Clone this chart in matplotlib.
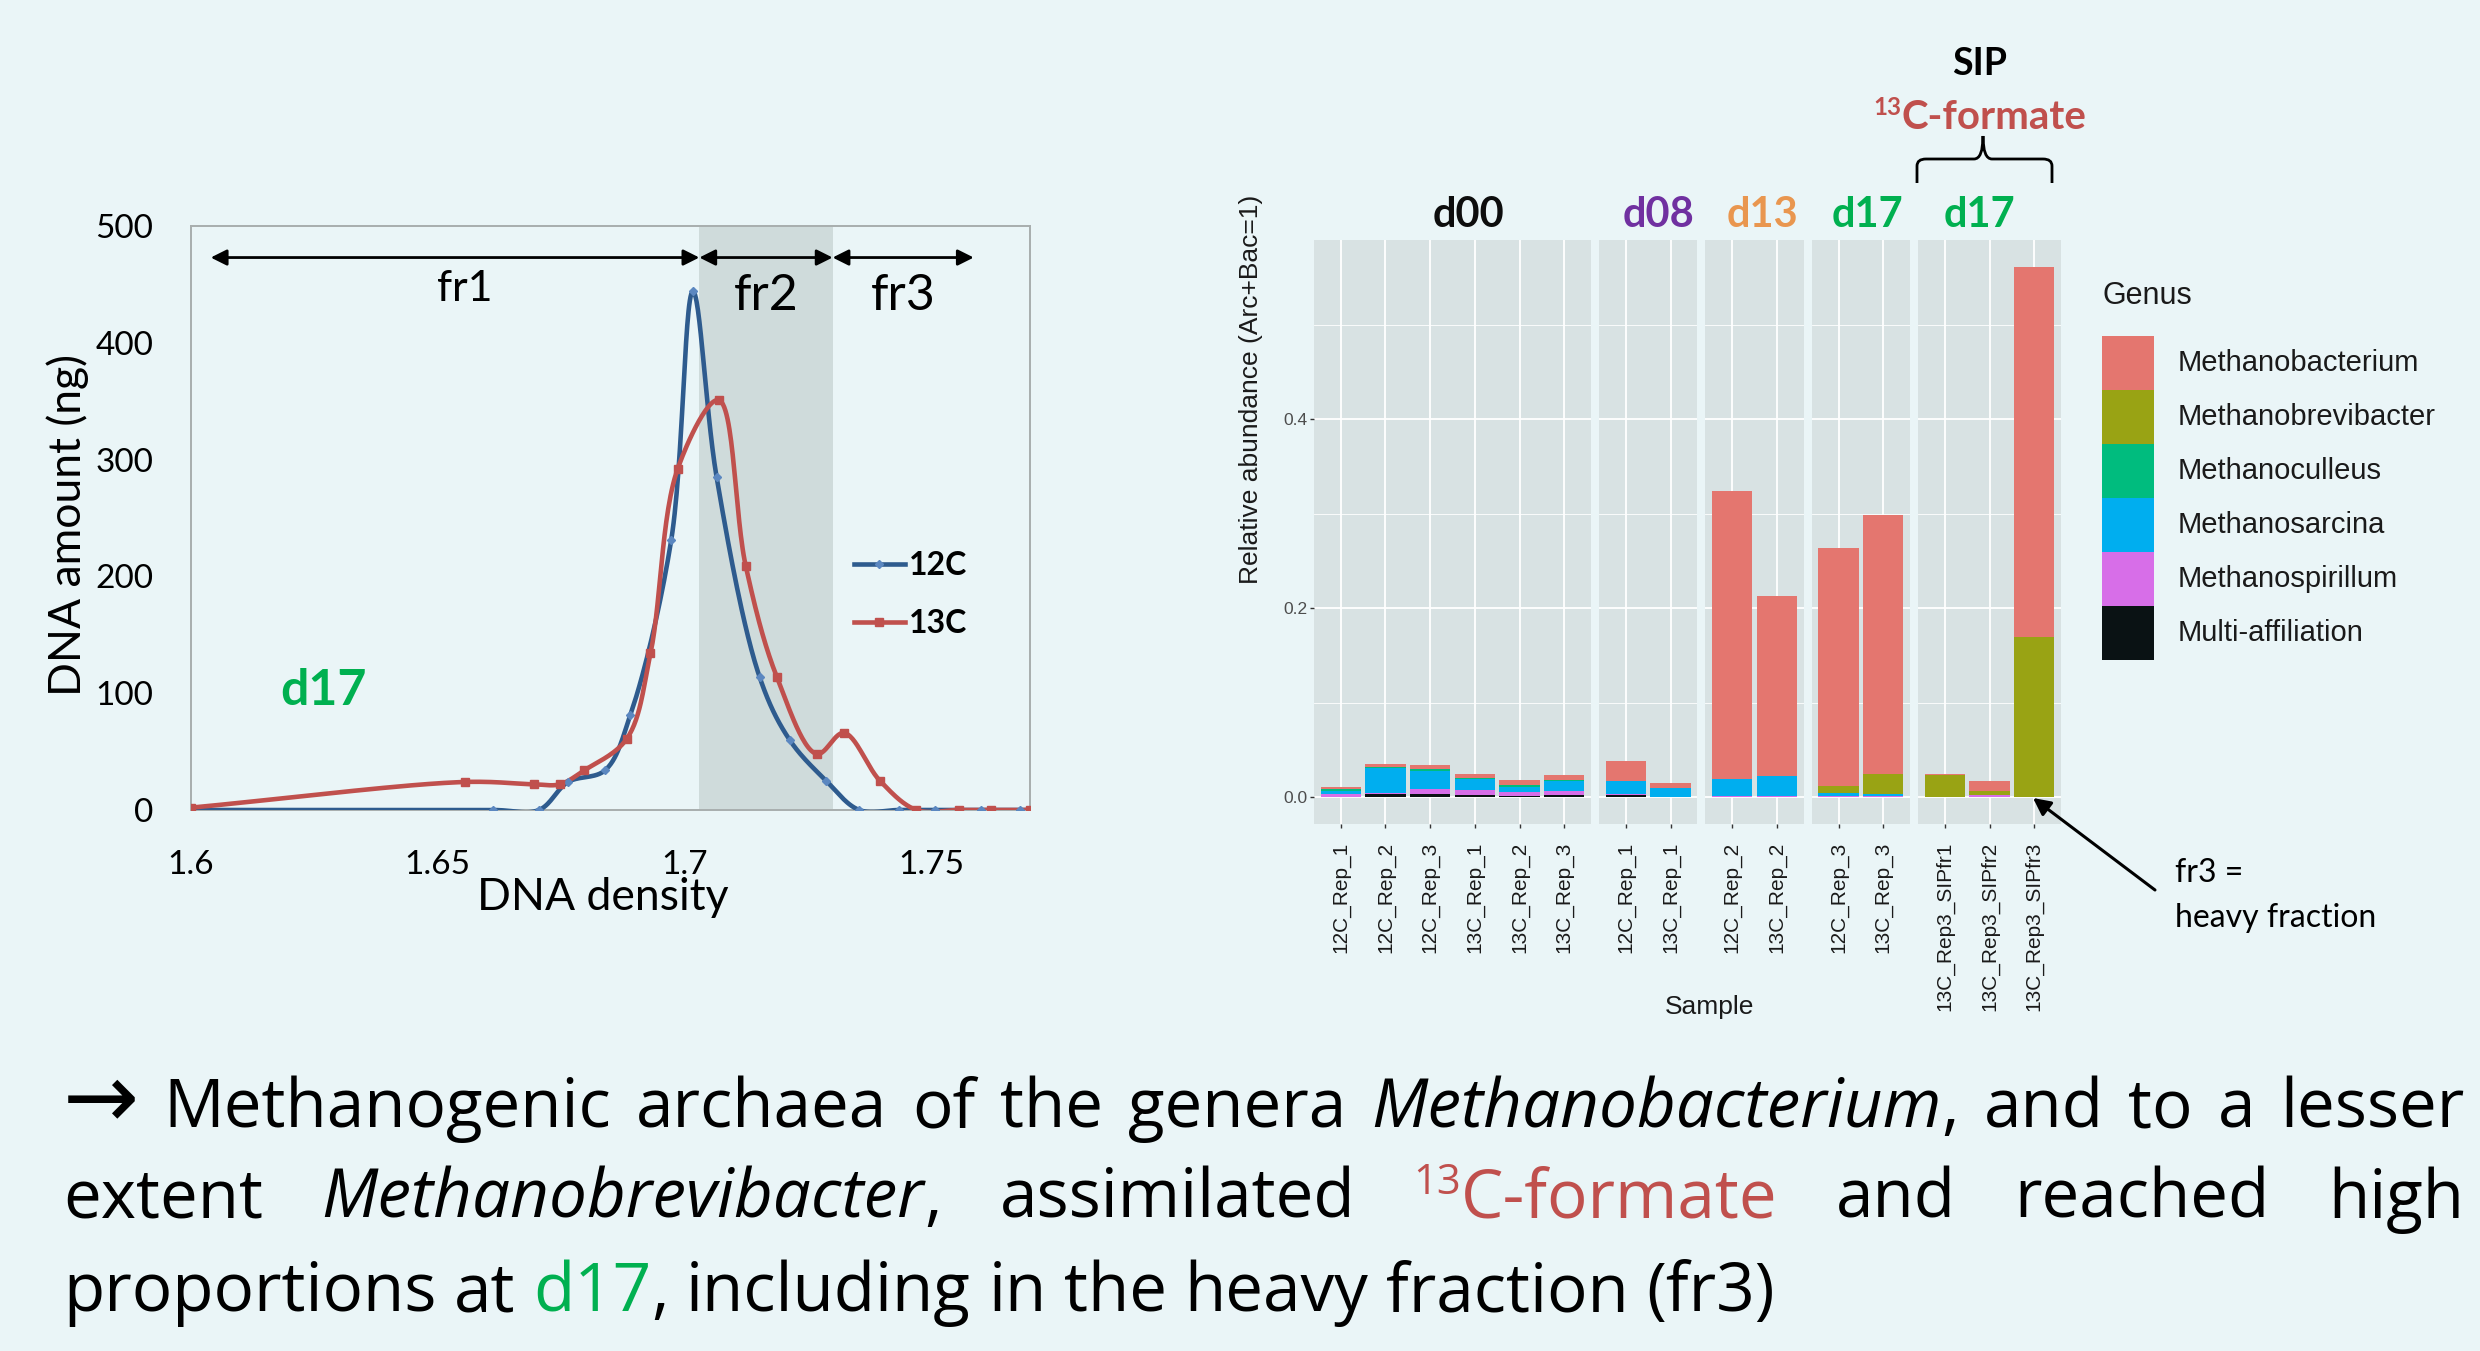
import numpy as np
import matplotlib
matplotlib.use("Agg")
import matplotlib.pyplot as plt
from matplotlib.lines import Line2D
from matplotlib.patches import Rectangle, PathPatch
from matplotlib.path import Path

W, H = 2480, 1351
BG = "#EAF5F7"
SLIDE_FONT = ["Lato", "DejaVu Sans"]
BODY_FONT = ["Open Sans", "DejaVu Sans"]
GG_FONT = ["Liberation Sans", "DejaVu Sans"]

# ---- CsCl gradient profile (left chart) ----
density_12c = [1.600, 1.6611, 1.6705, 1.6764, 1.6839, 1.6890, 1.6973, 1.7017, 1.7065,
               1.7152, 1.7213, 1.7287, 1.7354, 1.7435, 1.7508, 1.7600, 1.7680, 1.7700]
dna_12c = [0, 0, 0, 24, 34, 81, 231, 444, 285, 114, 60, 25, 0, 0, 0, 0, 0, 0]
density_13c = [1.600, 1.6555, 1.6695, 1.6747, 1.6797, 1.6883, 1.6931, 1.6986, 1.7069,
               1.7124, 1.7187, 1.7268, 1.7323, 1.7396, 1.7470, 1.7556, 1.7620, 1.7700]
dna_13c = [2, 24, 22, 22, 34, 61, 134, 292, 351, 209, 114, 48, 66, 25, 0, 0, 0, 0]
fractions = ["fr1", "fr2", "fr3"]
fraction_bounds = [1.604, 1.703, 1.730, 1.7586]

# ---- relative abundance of methanogens (right chart) ----
samples = ["12C_Rep_1", "12C_Rep_2", "12C_Rep_3", "13C_Rep_1", "13C_Rep_2", "13C_Rep_3",
           "12C_Rep_1", "13C_Rep_1",
           "12C_Rep_2", "13C_Rep_2",
           "12C_Rep_3", "13C_Rep_3",
           "13C_Rep3_SIPfr1", "13C_Rep3_SIPfr2", "13C_Rep3_SIPfr3"]
groups = ["d00"] * 6 + ["d08"] * 2 + ["d13"] * 2 + ["d17"] * 2 + ["SIP"] * 3
group_order = ["d00", "d08", "d13", "d17", "SIP"]
group_labels = ["d00", "d08", "d13", "d17", "d17"]
group_colors = ["#0D0D0D", "#7030A0", "#E9964F", "#00B050", "#00B050"]

genera = ["Methanobacterium", "Methanobrevibacter", "Methanoculleus",
          "Methanosarcina", "Methanospirillum", "Multi-affiliation"]
genus_colors = ["#E4766F", "#99A314", "#00BC7E", "#00AEEF", "#D76EE8", "#0A1214"]
methanobacterium = [0.0025, 0.0035, 0.004, 0.0043, 0.005, 0.005, 0.0205, 0.005,
                    0.3045, 0.190, 0.251, 0.274, 0.001, 0.011, 0.392]
methanobrevibacter = [0, 0, 0, 0, 0, 0, 0, 0, 0, 0, 0.0075, 0.021, 0.024, 0.004, 0.1697]
methanoculleus = [0.002, 0.001, 0.0015, 0.001, 0.002, 0.0015, 0.0005, 0.0005,
                  0, 0, 0, 0, 0, 0, 0]
methanosarcina = [0.003, 0.0265, 0.0195, 0.012, 0.005, 0.0105, 0.0135, 0.0095,
                  0.0175, 0.0207, 0.003, 0.002, 0, 0, 0]
methanospirillum = [0.0025, 0.0005, 0.005, 0.0045, 0.004, 0.0035, 0.0012, 0.0005,
                    0.0015, 0.0015, 0.002, 0.002, 0, 0.0025, 0]
multi_affiliation = [0.001, 0.004, 0.004, 0.003, 0.002, 0.003, 0.0025, 0,
                     0.0005, 0.0005, 0, 0, 0, 0, 0]
abundance = [methanobacterium, methanobrevibacter, methanoculleus,
             methanosarcina, methanospirillum, multi_affiliation]

C12 = "#2E5B8E"
C13 = "#C0504D"
GREEN = "#00B050"

plt.rcParams["font.family"] = SLIDE_FONT
fig = plt.figure(figsize=(W / 100, H / 100), dpi=100, facecolor=BG)


def box_axes(x0, y0, x1, y1):
    # axes from a box given in figure pixels (top-left origin)
    return fig.add_axes([x0 / W, 1 - y1 / H, (x1 - x0) / W, (y1 - y0) / H])


def smooth(x, y, n=30):
    # Excel "smoothed line": centripetal Catmull-Rom, computed in screen units
    sx, sy = 839 / 0.17, 584 / 500
    p = np.column_stack([(np.asarray(x) - 1.6) * sx, np.asarray(y, float) * sy])
    p = np.vstack([2 * p[0] - p[1], p, 2 * p[-1] - p[-2]])
    out = []
    for i in range(len(p) - 3):
        p0, p1, p2, p3 = p[i:i + 4]
        t0 = 0.0
        t1 = t0 + np.linalg.norm(p1 - p0) ** 0.5
        t2 = t1 + np.linalg.norm(p2 - p1) ** 0.5
        t3 = t2 + np.linalg.norm(p3 - p2) ** 0.5
        t = np.linspace(t1, t2, n)[:, None]
        a1 = (t1 - t) / (t1 - t0) * p0 + (t - t0) / (t1 - t0) * p1
        a2 = (t2 - t) / (t2 - t1) * p1 + (t - t1) / (t2 - t1) * p2
        a3 = (t3 - t) / (t3 - t2) * p2 + (t - t2) / (t3 - t2) * p3
        b1 = (t2 - t) / (t2 - t0) * a1 + (t - t0) / (t2 - t0) * a2
        b2 = (t3 - t) / (t3 - t1) * a2 + (t - t1) / (t3 - t1) * a3
        out.append((t2 - t) / (t2 - t1) * b1 + (t - t1) / (t2 - t1) * b2)
    c = np.vstack(out)
    return c[:, 0] / sx + 1.6, c[:, 1] / sy


# ================= left: DNA density profile =================
ax = box_axes(191, 226, 1030, 810)
ax.set_facecolor("none")
ax.axvspan(fraction_bounds[1], fraction_bounds[2], color="#CFDBDB", lw=0, zorder=0)

xs, ys = smooth(density_12c, dna_12c)
ax.plot(xs, ys, color=C12, lw=3.3, zorder=3, solid_capstyle="round")
ax.plot(density_12c, dna_12c, ls="none", marker="D", ms=4.5, color="#5B87C0", zorder=4)
xs, ys = smooth(density_13c, dna_13c)
ax.plot(xs, ys, color=C13, lw=3.3, zorder=3, solid_capstyle="round")
ax.plot(density_13c, dna_13c, ls="none", marker="s", ms=5.5, color=C13, zorder=4)

ax.set_xlim(1.6, 1.77)
ax.set_ylim(0, 500)
ax.set_xticks([1.6, 1.65, 1.7, 1.75])
ax.set_xticklabels(["1.6", "1.65", "1.7", "1.75"])
ax.set_yticks(range(0, 501, 100))
ax.tick_params(axis="x", length=0, pad=29, labelsize=24)
ax.tick_params(axis="y", length=0, pad=27, labelsize=24)
for s in ax.spines.values():
    s.set_color("#A8AEAE")
    s.set_linewidth(1.4)

frac_sizes = [31, 36, 36]
frac_y = [446, 440, 440]
for i, name in enumerate(fractions):
    a, b = fraction_bounds[i], fraction_bounds[i + 1]
    ax.annotate("", xy=(b, 473), xytext=(a, 473),
                arrowprops=dict(arrowstyle="<|-|>", color="black", lw=2,
                                mutation_scale=24, shrinkA=0, shrinkB=0))
    ax.text((a + b) / 2 + (0.0 if i else 0.002), frac_y[i], name, ha="center", va="center",
            fontsize=frac_sizes[i])

ax.text(1.618, 102, "d17", color=GREEN, fontsize=36, fontweight="bold",
        ha="left", va="center")

handles = [Line2D([], [], color=C12, lw=3.3, marker="D", ms=4.5, mfc="#5B87C0", mec="#5B87C0"),
           Line2D([], [], color=C13, lw=3.3, marker="s", ms=5.5, mfc=C13, mec=C13)]
ax.legend(handles, ["12C", "13C"], loc="upper left", bbox_to_anchor=(0.79, 0.443),
          frameon=False, borderpad=0, borderaxespad=0, handlelength=1.6,
          handletextpad=0.12, labelspacing=0.9,
          prop=dict(family=SLIDE_FONT, weight="bold", size=23))

# ================= right: stacked bars (ggplot facets) =================
units = [len([g for g in groups if g == k]) + 0.2 for k in group_order]
px0, px1, gap = 1314, 2061, 8
unit_px = (px1 - px0 - gap * (len(units) - 1)) / sum(units)
ymax = max(np.sum(abundance, axis=0))
ylim = (-0.05 * ymax, 1.05 * ymax)

left = px0
for k, key in enumerate(group_order):
    idx = [i for i, g in enumerate(groups) if g == key]
    w = units[k] * unit_px
    pax = box_axes(left, 240, left + w, 824)
    left += w + gap
    pax.set_facecolor("#D8E2E3")
    pos = np.arange(len(idx))
    bottom = np.zeros(len(idx))
    for gi in range(len(genera) - 1, -1, -1):
        vals = np.array([abundance[gi][i] for i in idx])
        pax.bar(pos, vals, width=0.9, bottom=bottom, color=genus_colors[gi], lw=0, zorder=3)
        bottom += vals
    pax.set_xlim(-0.6, len(idx) - 0.4)
    pax.set_ylim(*ylim)
    pax.set_xticks(pos)
    pax.set_xticklabels([samples[i] for i in idx], rotation=90, va="top", ha="center",
                        family=GG_FONT, fontsize=15, color="#1A1A1A")
    pax.set_yticks([0, 0.2, 0.4])
    pax.set_yticks([0.1, 0.3, 0.5], minor=True)
    pax.set_yticklabels(["0.0", "0.2", "0.4"], family=GG_FONT, fontsize=12.5, color="#4D4D4D")
    pax.grid(True, which="major", color="white", lw=1.3, zorder=0)
    pax.grid(True, which="minor", axis="y", color="white", lw=0.6, zorder=0)
    pax.set_axisbelow(True)
    pax.tick_params(axis="x", length=3, width=1, color="#333333", pad=10)
    pax.tick_params(axis="y", which="major", length=3, width=1, color="#333333", pad=2,
                    labelleft=(k == 0), left=(k == 0))
    pax.tick_params(axis="y", which="minor", length=0)
    for s in pax.spines.values():
        s.set_visible(False)

# ================= overlay: slide annotations =================
ov = fig.add_axes([0, 0, 1, 1])
ov.set_xlim(0, W)
ov.set_ylim(H, 0)
ov.axis("off")
ov.patch.set_visible(False)
ov.set_zorder(10)
renderer = fig.canvas.get_renderer()

ov.text(68, 525, "DNA amount (ng)", rotation=90, ha="center", va="center", fontsize=32)
ov.text(603, 897, "DNA density", ha="center", va="center", fontsize=32)

# ggplot titles
ov.text(1251, 389, "Relative abundance (Arc+Bac=1)", rotation=90, ha="center", va="center",
        family=GG_FONT, fontsize=19, color="#1A1A1A")
ov.text(1710, 1007, "Sample", ha="center", va="center", family=GG_FONT, fontsize=19,
        color="#1A1A1A")

# strip labels
strip_x = [1469, 1658, 1762, 1867, 1979]
for x, lab, col in zip(strip_x, group_labels, group_colors):
    ov.text(x, 227, lab, ha="center", va="baseline", fontsize=30, fontweight="bold", color=col)

# legend (Genus)
ov.text(2103, 296, "Genus", ha="left", va="center", family=GG_FONT, fontsize=22,
        color="#1A1A1A")
for i, (name, col) in enumerate(zip(genera, genus_colors)):
    y = 336 + 54 * i
    ov.add_patch(Rectangle((2102, y), 52, 54, color=col, lw=0))
    ov.text(2178, y + 27, name, ha="left", va="center", family=GG_FONT, fontsize=21,
            color="#1A1A1A")


def build(word, y, size, **base):
    pieces = []
    for text, kw in word:
        kw = dict(kw)
        scale = kw.pop("scale", 1.0)
        rise = kw.pop("rise", 0.0)
        opts = dict(base)
        opts.update(kw)
        t = ov.text(0, y - rise, text, fontsize=size * scale, va="baseline", ha="left", **opts)
        pieces.append((t, t.get_window_extent(renderer).width))
    return pieces


def place(words, y, size, x0, x1=None, align="left", **base):
    built = [build(wd, y, size, **base) for wd in words]
    widths = [sum(w for _, w in p) for p in built]
    a = ov.text(0, 0, "nn", fontsize=size, **base)
    b = ov.text(0, 0, "n n", fontsize=size, **base)
    space = b.get_window_extent(renderer).width - a.get_window_extent(renderer).width
    a.remove()
    b.remove()
    if x1 is not None and len(words) > 1:
        gap_w = (x1 - x0 - sum(widths)) / (len(words) - 1)
    else:
        gap_w = space
    total = sum(widths) + gap_w * (len(words) - 1)
    x = x0 - total / 2 if align == "center" else x0
    for pieces in built:
        for t, w in pieces:
            t.set_x(x)
            x += w
        x += gap_w


def run(text, **kw):
    return (text, kw)


# SIP header and brace
place([[run("SIP")]], 75, 27, 1980, align="center", fontweight="bold", color="black")
place([[run("13", scale=0.6, rise=14), run("C-formate")]], 129, 29, 1980, align="center",
      fontweight="bold", color=C13)
brace = Path([(1917, 183), (1917, 166), (1917, 159), (1926, 159), (1974, 159),
              (1983, 159), (1983, 136), (1983, 159), (1992, 159), (2043, 159),
              (2052, 159), (2052, 166), (2052, 183)],
             [Path.MOVETO, Path.LINETO, Path.CURVE3, Path.CURVE3, Path.LINETO,
              Path.CURVE3, Path.CURVE3, Path.CURVE3, Path.CURVE3, Path.LINETO,
              Path.CURVE3, Path.CURVE3, Path.LINETO])
ov.add_patch(PathPatch(brace, fill=False, lw=2, color="black"))

# heavy fraction pointer
ov.annotate("", xy=(2033, 798), xytext=(2155, 890),
            arrowprops=dict(arrowstyle="-|>", color="black", lw=2.2, mutation_scale=26,
                            shrinkA=0, shrinkB=0))
ov.text(2175, 873, "fr3 =", ha="left", va="center", fontsize=23)
ov.text(2175, 918, "heavy fraction", ha="left", va="center", fontsize=23)

# conclusion text
TS = 48.5
line1 = [[run("\u2192", family=["DejaVu Sans"], scale=1.35)],
         [run("Methanogenic")],
         [run("archaea")], [run("of")], [run("the")], [run("genera")],
         [run("Methanobacterium", fontstyle="italic"), run(",")], [run("and")], [run("to")],
         [run("a")], [run("lesser")]]
line2 = [[run("extent")], [run("Methanobrevibacter", fontstyle="italic"), run(",")],
         [run("assimilated")],
         [run("13", color=C13, scale=0.62, rise=24), run("C-formate", color=C13)],
         [run("and")], [run("reached")], [run("high")]]
line3 = [[run("proportions")], [run("at")], [run("d17", color=GREEN), run(",")],
         [run("including")], [run("in")], [run("the")], [run("heavy")], [run("fraction")],
         [run("(fr3)")]]
place(line1, 1127, TS, 63, 2464, color="black", family=BODY_FONT)
place(line2, 1218, TS, 63, 2464, color="black", family=BODY_FONT)
place(line3, 1311, TS, 63, color="black", family=BODY_FONT)

fig.savefig("out.png", dpi=100, facecolor=BG)
